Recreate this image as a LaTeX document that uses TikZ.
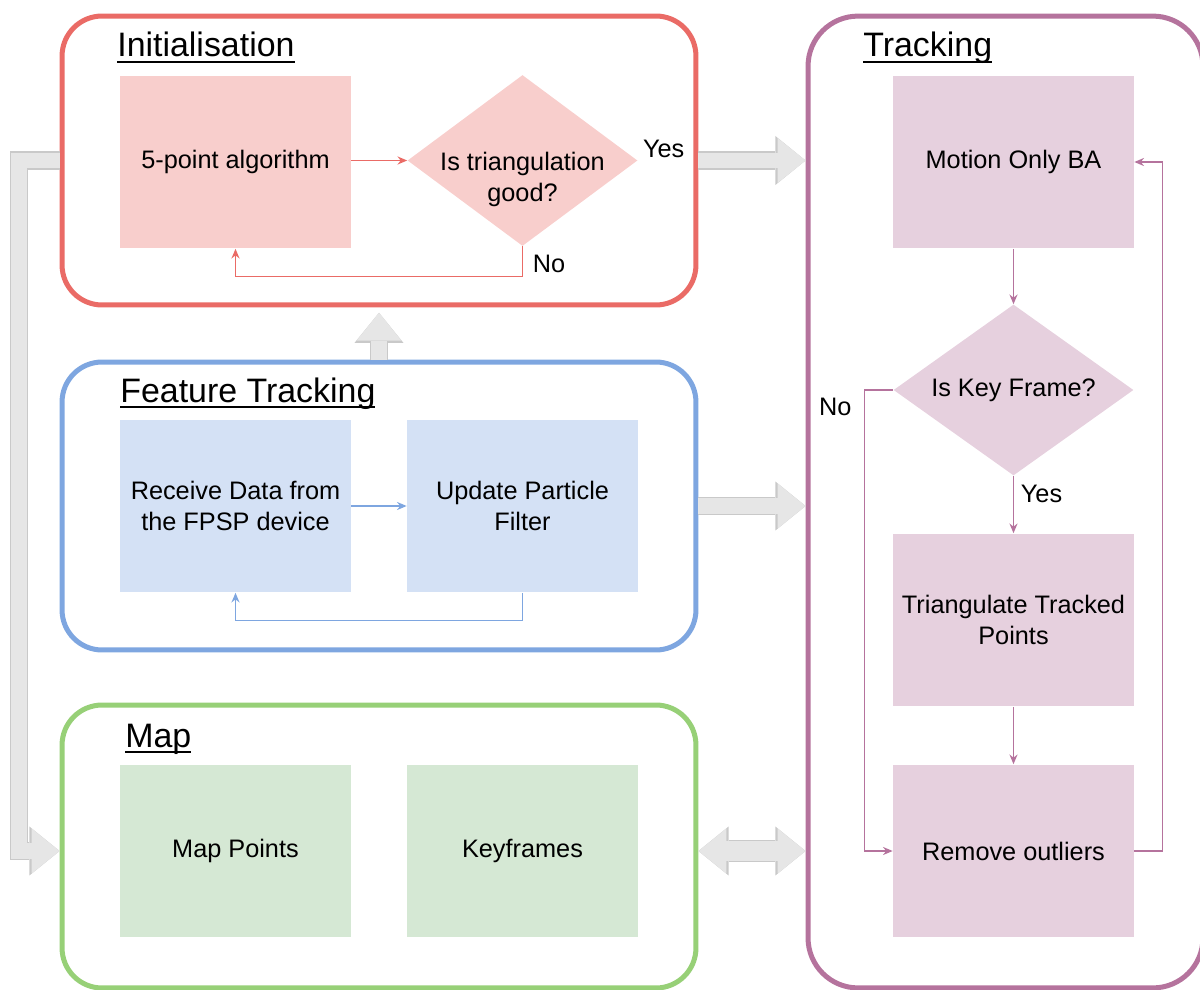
\documentclass[tikz,border=0pt]{standalone}
\usepackage{fontspec}
\setmainfont{Liberation Sans}
\usetikzlibrary{positioning,arrows.meta,shapes.geometric}
\definecolor{initline}{HTML}{EA6B66}
\definecolor{initfill}{HTML}{F8CECC}
\definecolor{ftline}{HTML}{7EA6E0}
\definecolor{ftfill}{HTML}{D4E1F5}
\definecolor{mapline}{HTML}{97D077}
\definecolor{mapfill}{HTML}{D5E8D4}
\definecolor{trkline}{HTML}{B5739D}
\definecolor{trkfill}{HTML}{E6D0DE}
\definecolor{arrowfill}{HTML}{E6E6E6}
\definecolor{arrowedge}{HTML}{C9C9C9}
\newcommand{\flowarrowstyle}{-{Stealth[length=5.5pt,width=4.6pt]}}
\newcommand{\titleul}[1]{\setbox0\hbox{#1}\rlap{\rule[-3.5pt]{\wd0}{1.4pt}}\box0}

\begin{document}
\begin{tikzpicture}[
    x=0.02cm, y=-0.02cm,
    font=\fontsize{14.4}{17.5}\selectfont,
    stage/.style={draw, line width=2.85pt, rounded corners=0.8cm, minimum width=12.68cm},
    stagetitle/.style={anchor=base west, inner sep=0pt, font=\fontsize{19.3}{23}\selectfont},
    procbox/.style={minimum width=4.62cm, minimum height=3.46cm, inner sep=0pt, align=center},
    decision/.style={diamond, aspect=1.4, minimum width=4.6cm, minimum height=3.42cm, inner sep=0pt, align=center},
    flow/.style={\flowarrowstyle, line width=0.75pt},
    answer/.style={inner sep=0pt},
    bigarrow/.style={draw=arrowfill, line width=9.1pt,
      -{Triangle[length=15.9pt,width=25.6pt,line width=0pt]},
      preaction={draw=arrowedge, line width=10.3pt, -{Triangle[length=17.2pt,width=27.9pt,line width=0pt]}}},
    bigboth/.style={draw=arrowfill, line width=11.4pt,
      {Triangle[length=15.9pt,width=25.6pt,line width=0pt]}-{Triangle[length=15.9pt,width=25.6pt,line width=0pt]},
      preaction={draw=arrowedge, line width=12.6pt,
        {Triangle[length=17.2pt,width=27.9pt,line width=0pt]}-{Triangle[length=17.2pt,width=27.9pt,line width=0pt]}}}
]
  \useasboundingbox (0,0) rectangle (1200,990);
  \clip (0,0) rectangle (1200,990);

  % stages
  \node[stage, draw=initline, minimum height=5.78cm] (initbox) at (379,160.5) {};
  \node[stage, draw=ftline, minimum height=5.76cm] (ftbox) at (379,506) {};
  \node[stage, draw=mapline, minimum height=5.66cm] (mapbox) at (379,846.5) {};
  \node[stage, draw=trkline, rounded corners=1cm, minimum width=7.9cm, minimum height=19.44cm] (trackbox) at (1005.5,502) {};

  \node[stagetitle] (inittitle) at (117,57) {\titleul{Initialisation}};
  \node[stagetitle] (fttitle) at (120,402) {\titleul{Feature Tracking}};
  \node[stagetitle] (maptitle) at (125,747) {\titleul{Map}};
  \node[stagetitle] (tracktitle) at (863,57) {\titleul{Tracking}};

  % initialisation
  \node[procbox, fill=initfill] (fivept) at (235.5,162) {5-point algorithm};
  \node[decision, fill=initfill, label={[align=center, yshift=-10.8pt]center:Is triangulation\\good?}] (tridiam) at (522.5,160.5) {};
  \draw[flow, initline] (fivept.east |- tridiam.west) -- (tridiam.west);
  \draw[flow, initline] (tridiam.south) -- ++(0,30) -| (fivept.south);
  \node[answer, anchor=west] (initno) at ([xshift=5.7pt, yshift=-10.2pt]tridiam.south) {No};
  \node[answer, anchor=west] (inityes) at ([xshift=2.8pt, yshift=6.8pt]tridiam.east) {Yes};

  % feature tracking
  \node[procbox, fill=ftfill] (recv) at (235.5,506) {Receive Data from\\the FPSP device};
  \node[procbox, fill=ftfill] (upd) at (522.5,506) {Update Particle\\Filter};
  \draw[flow, ftline] (recv.east) -- (upd.west);
  \draw[flow, ftline] (upd.south) -- ++(0,28) -| (recv.south);

  % map
  \node[procbox, fill=mapfill] (mappts) at (235.5,851) {Map Points};
  \node[procbox, fill=mapfill] (keyfr) at (522.5,851) {Keyframes};

  % tracking
  \node[procbox, minimum width=4.82cm, fill=trkfill] (motion) at (1013.5,162) {Motion Only BA};
  \node[decision, minimum width=4.8cm, fill=trkfill] (keydiam) at (1013.5,390) {Is Key Frame?};
  \node[procbox, minimum width=4.82cm, fill=trkfill] (triang) at (1013.5,620) {Triangulate Tracked\\Points};
  \node[procbox, minimum width=4.82cm, fill=trkfill] (remout) at (1013.5,851) {Remove outliers};
  \draw[flow, trkline] (motion.south) -- (keydiam.north);
  \draw[flow, trkline] (keydiam.south) -- (triang.north);
  \draw[flow, trkline] (triang.south) -- (remout.north);
  \draw[flow, trkline] (keydiam.west) -- ++(-29,0) |- (remout.west);
  \draw[flow, trkline] (remout.east) -- ++(28,0) |- (motion.east);
  \node[answer, anchor=east] (trackno) at ([xshift=-23.6pt, yshift=-9.7pt]keydiam.west) {No};
  \node[answer, anchor=west] (trackyes) at ([xshift=4pt, yshift=-10.2pt]keydiam.south) {Yes};

  % block arrows between stages
  \draw[bigarrow] (initbox.east |- tridiam.east) -- (trackbox.west |- tridiam.east);
  \draw[bigarrow] (ftbox.east |- recv.east) -- (trackbox.west |- recv.east);
  \draw[bigboth] (mapbox.east |- mappts.east) -- (trackbox.west |- mappts.east);
  \draw[bigarrow] (ftbox.north) -- ([yshift=-3pt]initbox.south);
  \coordinate (leftbend) at (19,500);
  \draw[bigarrow] (initbox.west |- tridiam.west) -| (leftbend) |- (mapbox.west |- mappts.west);
\end{tikzpicture}
\end{document}
